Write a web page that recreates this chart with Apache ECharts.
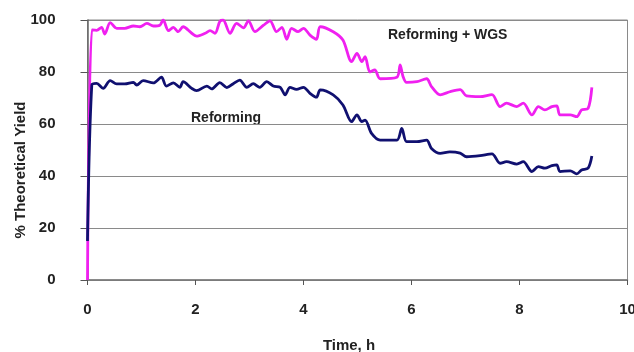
<!DOCTYPE html>
<html lang="en">
<head>
    <meta charset="UTF-8">
    <title>Theoretical Yield vs Time</title>
    <script src="https://cdn.jsdelivr.net/npm/echarts@6/dist/echarts.min.js"></script>
    <style>
        html, body { margin: 0; padding: 0; background: #fff; }
        #chart { width: 634px; height: 352px; }
    </style>
</head>
<body>
<div id="chart"></div>
<script>
// Reforming + WGS (magenta)
const wgsTime = [0, 0.08, 0.17, 0.26, 0.32, 0.42, 0.54, 0.69, 0.85, 0.97, 1.10, 1.22, 1.34, 1.40, 1.50, 1.59, 1.68, 1.77,
    1.93, 2.02, 2.18, 2.27, 2.36, 2.45, 2.51, 2.64, 2.76, 2.89, 2.98, 3.10, 3.26, 3.38, 3.50, 3.60, 3.69, 3.78, 3.90, 4.00,
    4.12, 4.24, 4.31, 4.55, 4.73, 4.89, 4.99, 5.08, 5.14, 5.23, 5.32, 5.42, 5.73, 5.79, 5.84, 5.91, 6.10, 6.28, 6.37,
    6.53, 6.71, 6.90, 7.02, 7.27, 7.49, 7.64, 7.76, 7.95, 8.07, 8.23, 8.35, 8.47, 8.60, 8.69, 8.75, 8.94, 9.06, 9.15,
    9.27, 9.34];
const wgsYield = [0, 96.2, 96.0, 97.2, 94.6, 99.0, 96.8, 96.8, 97.7, 97.4, 98.7, 97.7, 98.0, 100, 95.9, 97.2, 95.5, 97.4,
    94.9, 93.8, 94.9, 95.9, 94.9, 99.4, 100, 94.9, 98.7, 97.0, 99.7, 95.5, 98.0, 99.7, 95.5, 97.2, 92.6, 96.8, 95.5, 96.8,
    94.2, 92.6, 97.4, 95.5, 92.3, 84.0, 87.2, 84.0, 85.9, 80.0, 80.8, 77.4, 78.0, 82.7, 78.5, 76.0, 76.3, 77.4, 74.4,
    71.2, 72.4, 73.2, 70.8, 70.5, 71.3, 66.7, 68.0, 66.7, 68.0, 63.5, 66.7, 65.4, 66.7, 67.0, 63.5, 63.5, 62.8, 65.4,
    66.0, 74.1];

// Reforming (navy)
const refTime = [0, 0.08, 0.17, 0.29, 0.42, 0.54, 0.69, 0.85, 0.91, 1.03, 1.22, 1.37, 1.46, 1.59, 1.71, 1.77, 1.93, 2.02,
    2.21, 2.30, 2.45, 2.58, 2.70, 2.82, 2.95, 3.07, 3.19, 3.32, 3.44, 3.57, 3.66, 3.75, 3.87, 4.00, 4.12, 4.24, 4.31,
    4.55, 4.73, 4.89, 4.99, 5.08, 5.14, 5.26, 5.42, 5.73, 5.82, 5.91, 6.10, 6.28, 6.37, 6.53, 6.71, 6.90, 7.02, 7.27,
    7.49, 7.64, 7.76, 7.95, 8.07, 8.23, 8.35, 8.47, 8.60, 8.69, 8.75, 8.94, 9.06, 9.15, 9.27, 9.34];
const refYield = [15, 75.0, 75.6, 73.7, 76.7, 75.4, 75.4, 76.0, 75.0, 76.7, 75.8, 78.0, 74.6, 75.8, 74.1, 76.3, 73.7, 72.8,
    74.6, 73.5, 75.9, 74.0, 75.5, 76.9, 74.1, 75.5, 74.1, 76.3, 74.6, 74.1, 71.2, 74.1, 73.3, 74.1, 71.8, 70.3, 73.1,
    71.2, 67.3, 60.9, 63.5, 60.9, 61.5, 56.4, 53.8, 53.8, 58.3, 53.2, 53.2, 53.8, 50.6, 48.7, 49.3, 48.8, 47.4, 47.8,
    48.5, 44.9, 45.5, 44.6, 45.5, 41.7, 43.6, 43.0, 44.0, 44.3, 41.7, 42.0, 40.8, 42.3, 43.0, 47.7];

const xTicks = [0, 10];   // min / max of time axis
const yTicks = [0, 100];  // min / max of yield axis

const pairs = (xs, ys) => xs.map((x, i) => [x, ys[i]]);

const chart = echarts.init(document.getElementById('chart'));
const labelFont = { fontFamily: 'Liberation Sans, Arial, sans-serif', fontWeight: 'bold', color: '#222' };
const textStyle = (extra) => Object.assign({
    fontFamily: labelFont.fontFamily, fontWeight: 'bold', fill: '#222'
}, extra);

chart.setOption({
    animation: false,
    backgroundColor: '#fff',
    grid: {
        left: 87.5, right: 6.5, top: 20, bottom: 72, show: true, borderColor: '#8a8a8a', borderWidth: 1,
        outerBoundsMode: 'none', containLabel: false
    },
    xAxis: {
        type: 'value', min: xTicks[0], max: xTicks[1], interval: 2,
        name: 'Time, h', nameLocation: 'middle', nameGap: 58,
        nameTextStyle: Object.assign({ fontSize: 15, padding: [0, 17, 0, 0] }, labelFont),
        axisLine: { lineStyle: { color: '#777', width: 1.5 } },
        axisTick: { show: true, length: 5, lineStyle: { color: '#555' } },
        axisLabel: Object.assign({ fontSize: 15, margin: 22 }, labelFont),
        splitLine: { show: false }
    },
    yAxis: {
        type: 'value', min: yTicks[0], max: yTicks[1], interval: 20,
        axisLine: { show: true, lineStyle: { color: '#666', width: 1.5 } },
        axisTick: { show: true, length: 7, lineStyle: { color: '#555' } },
        axisLabel: Object.assign({ fontSize: 15, margin: 32 }, labelFont),
        splitLine: { lineStyle: { color: '#8a8a8a', width: 1.2 } }
    },
    series: [
        {
            name: 'Reforming + WGS', type: 'line', data: pairs(wgsTime, wgsYield),
            showSymbol: false, smooth: 0.3, lineStyle: { color: '#f020f0', width: 2.8 }
        },
        {
            name: 'Reforming', type: 'line', data: pairs(refTime, refYield),
            showSymbol: false, smooth: 0.3, lineStyle: { color: '#101070', width: 2.8 }
        }
    ],
    graphic: [
        // y axis title, rotated
        { type: 'text', x: 21, y: 170, rotation: Math.PI / 2,
          style: textStyle({ text: '% Theoretical Yield', fontSize: 15, align: 'center', verticalAlign: 'middle' }) },
        { type: 'text', left: 388, top: 28, style: textStyle({ text: 'Reforming + WGS', fontSize: 14 }) },
        { type: 'text', left: 191, top: 111, style: textStyle({ text: 'Reforming', fontSize: 14 }) }
    ]
});
</script>
</body>
</html>
